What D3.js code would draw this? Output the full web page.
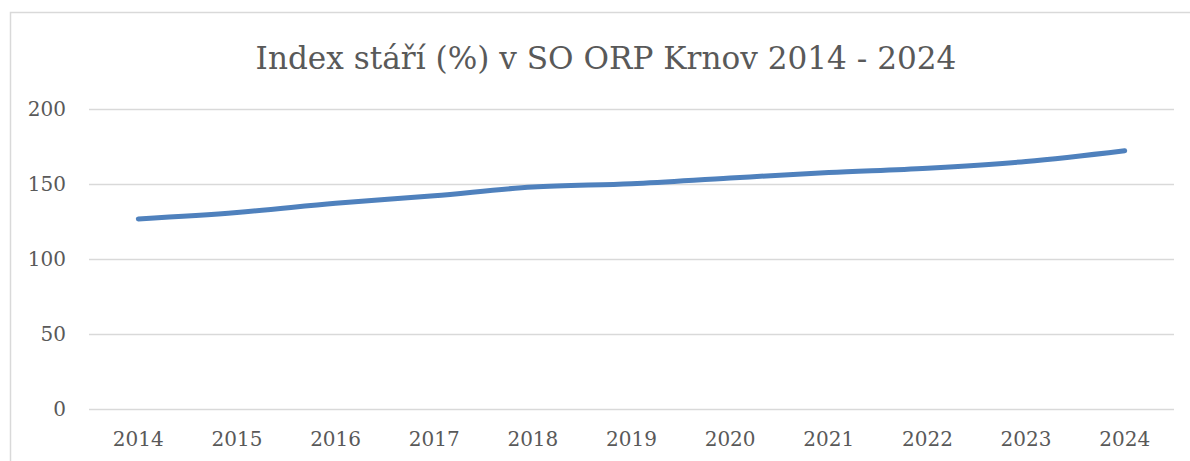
<!DOCTYPE html>
<html lang="cs">
<head>
  <meta charset="UTF-8">
  <title>Index stáří</title>
  <script src="https://d3js.org/d3.v7.min.js"></script>
  <style>
    body { margin: 0; background: #fff; }
    svg { display: block; font-family: "DejaVu Serif", serif; }
  </style>
</head>
<body>
  <svg width="1190" height="461"></svg>
  <script>
    // data
    const years = ["2014", "2015", "2016", "2017", "2018", "2019", "2020", "2021", "2022", "2023", "2024"];
    const indexValues = [126.7, 131, 137.1, 142.2, 148, 150.2, 154, 157.6, 160.5, 165, 172.2];
    const yTicks = [0, 50, 100, 150, 200];
    const title = "Index stáří (%) v SO ORP Krnov 2014 - 2024";

    const svg = d3.select("svg"),
          width = +svg.attr("width"),
          height = +svg.attr("height");

    const margin = { top: 109, right: 16, bottom: 52, left: 89 };

    // chart frame
    svg.append("rect")
      .attr("x", 10.5).attr("y", 12.5)
      .attr("width", width + 20).attr("height", height + 20)
      .attr("fill", "none").attr("stroke", "#d9d9d9").attr("stroke-width", 1.5);

    const x = d3.scaleBand()
      .domain(years)
      .range([margin.left, width - margin.right]);

    const y = d3.scaleLinear()
      .domain([0, 200])
      .range([height - margin.bottom, margin.top]);

    // gridlines
    svg.append("g")
      .selectAll("line")
      .data(yTicks)
      .join("line")
      .attr("x1", margin.left).attr("x2", width - margin.right)
      .attr("y1", d => Math.round(y(d)) + 0.5).attr("y2", d => Math.round(y(d)) + 0.5)
      .attr("stroke", "#d9d9d9").attr("stroke-width", 1.5);

    // y labels
    svg.append("g")
      .selectAll("text")
      .data(yTicks)
      .join("text")
      .attr("x", 66)
      .attr("y", d => y(d))
      .attr("dy", "0.36em")
      .attr("text-anchor", "end")
      .attr("fill", "#595959")
      .style("font-size", "20px")
      .text(d => d);

    // x labels
    svg.append("g")
      .selectAll("text")
      .data(years)
      .join("text")
      .attr("x", d => x(d) + x.bandwidth() / 2)
      .attr("y", 439)
      .attr("dy", "0.36em")
      .attr("text-anchor", "middle")
      .attr("fill", "#595959")
      .style("font-size", "20px")
      .text(d => d);

    // line
    const line = d3.line()
      .x((d, i) => x(years[i]) + x.bandwidth() / 2)
      .y(d => y(d))
      .curve(d3.curveMonotoneX);

    svg.append("path")
      .datum(indexValues)
      .attr("d", line)
      .attr("fill", "none")
      .attr("stroke", "#4f81bd")
      .attr("stroke-width", 5)
      .attr("stroke-linecap", "round")
      .attr("stroke-linejoin", "round");

    // title, sized to the reference width
    const t = svg.append("text")
      .attr("x", 606)
      .attr("y", 58)
      .attr("dy", "0.36em")
      .attr("text-anchor", "middle")
      .attr("fill", "#595959")
      .style("font-size", "30px")
      .text(title);
    const len = t.node().getComputedTextLength();
    t.style("font-size", (30 * 701 / len) + "px");
  </script>
</body>
</html>
